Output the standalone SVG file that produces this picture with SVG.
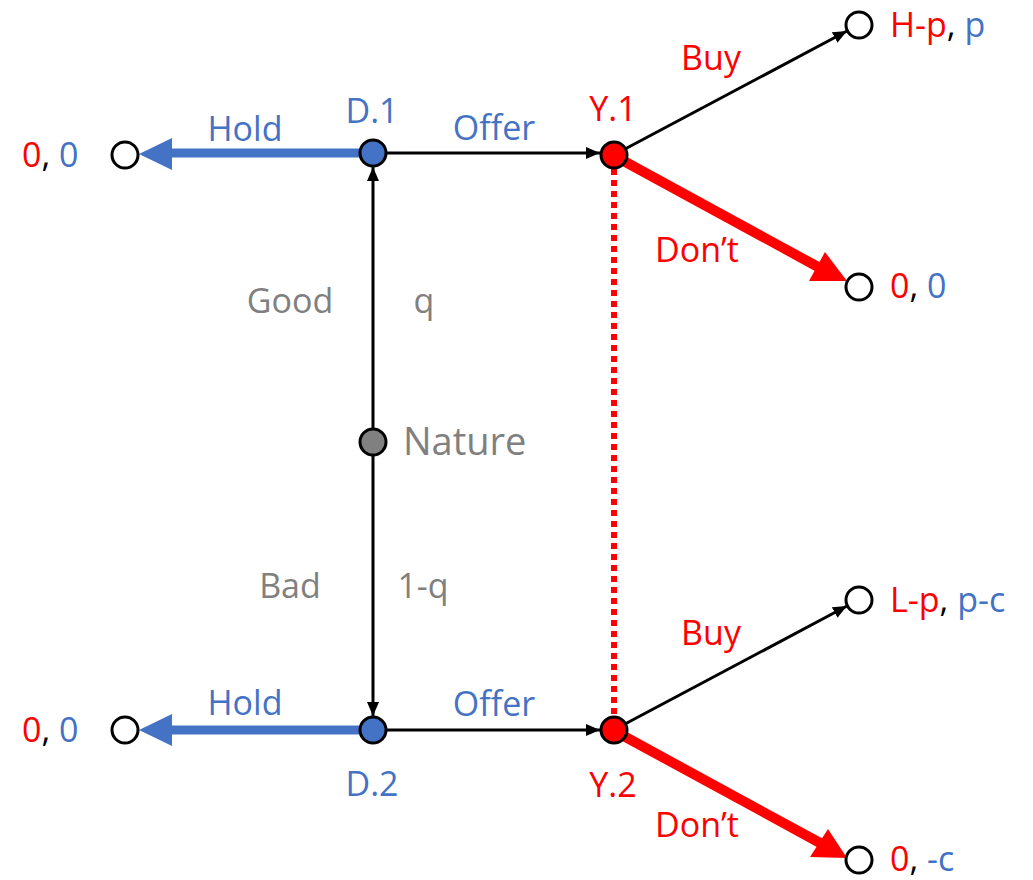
<svg xmlns="http://www.w3.org/2000/svg" width="1033" height="880" viewBox="0 0 1033 880">
<defs>
<style>
text{font-family:"Open Sans","Noto Sans",sans-serif;font-size:34px;font-weight:500;}
.r{fill:#FF0000}.b{fill:#4472C4}.g{fill:#808080}.k{fill:#000}
.m{text-anchor:middle}
.thin{stroke:#000;stroke-width:3;fill:none}
.node{stroke:#000;stroke-width:3}
</style>
<marker id="ah" markerUnits="userSpaceOnUse" markerWidth="16" markerHeight="14" refX="14" refY="6" orient="auto">
<path d="M0,0 L14,6 L0,12 Z" fill="#000"/>
</marker>
</defs>
<rect width="1033" height="880" fill="#fff"/>
<g id="connectors">
<line class="thin" x1="386" y1="153" x2="600" y2="153" marker-end="url(#ah)"/>
<line class="thin" x1="386" y1="730" x2="600" y2="730" marker-end="url(#ah)"/>
<line class="thin" x1="373" y1="428" x2="373" y2="167" marker-end="url(#ah)"/>
<line class="thin" x1="373" y1="455" x2="373" y2="716" marker-end="url(#ah)"/>
<line class="thin" x1="625" y1="149" x2="847" y2="31" marker-end="url(#ah)"/>
<line class="thin" x1="625" y1="724" x2="847" y2="606" marker-end="url(#ah)"/>
<line x1="614" y1="169" x2="614" y2="716" stroke="#FF0000" stroke-width="6" stroke-dasharray="6 5"/>
<line x1="360" y1="153" x2="170" y2="153" stroke="#4472C4" stroke-width="9"/>
<polygon points="139,154 172,138 172,170" fill="#4472C4"/>
<line x1="360" y1="730" x2="170" y2="730" stroke="#4472C4" stroke-width="9"/>
<polygon points="139,730 172,714 172,746" fill="#4472C4"/>
<line x1="620" y1="159" x2="820" y2="268" stroke="#FF0000" stroke-width="10"/>
<polygon points="847,281 809,281 825,252" fill="#FF0000"/>
<line x1="620" y1="734" x2="822" y2="844" stroke="#FF0000" stroke-width="10"/>
<polygon points="847,858 810,857 828,829" fill="#FF0000"/>
</g>
<g id="nature"><circle class="node" cx="373" cy="442" r="13" fill="#808080"/><text class="g" x="403" y="455" style="font-size:38px">Nature</text></g>
<g id="d1"><circle class="node" cx="373" cy="153" r="13" fill="#4472C4"/><text class="b m" x="372" y="123">D.1</text></g>
<g id="d2"><circle class="node" cx="373" cy="730" r="13" fill="#4472C4"/><text class="b m" x="372" y="796">D.2</text></g>
<g id="y1"><circle class="node" cx="614" cy="155" r="13" fill="#FF0000"/><text class="r m" x="613" y="121">Y.1</text></g>
<g id="y2"><circle class="node" cx="614" cy="730" r="13" fill="#FF0000"/><text class="r m" x="613" y="797">Y.2</text></g>
<g id="t-left1"><circle class="node" cx="125" cy="155" r="13" fill="#fff"/><text x="22" y="167"><tspan class="r">0</tspan><tspan class="k">, </tspan><tspan class="b">0</tspan></text></g>
<g id="t-left2"><circle class="node" cx="125" cy="730" r="13" fill="#fff"/><text x="22" y="742"><tspan class="r">0</tspan><tspan class="k">, </tspan><tspan class="b">0</tspan></text></g>
<g id="t-hp"><circle class="node" cx="859" cy="25" r="13" fill="#fff"/><text x="890" y="37"><tspan class="r">H-p</tspan><tspan class="k">, </tspan><tspan class="b">p</tspan></text></g>
<g id="t-00"><circle class="node" cx="859" cy="287" r="13" fill="#fff"/><text x="890" y="298"><tspan class="r">0</tspan><tspan class="k">, </tspan><tspan class="b">0</tspan></text></g>
<g id="t-lp"><circle class="node" cx="859" cy="600" r="13" fill="#fff"/><text x="890" y="612"><tspan class="r">L-p</tspan><tspan class="k">, </tspan><tspan class="b">p-c</tspan></text></g>
<g id="t-0c"><circle class="node" cx="859" cy="860" r="13" fill="#fff"/><text x="890" y="871"><tspan class="r">0</tspan><tspan class="k">, </tspan><tspan class="b">-c</tspan></text></g>
<g id="labels">
<text class="b m" x="245" y="141">Hold</text>
<text class="b m" x="245" y="715">Hold</text>
<text class="b m" x="494" y="140">Offer</text>
<text class="b m" x="494" y="716">Offer</text>
<text class="r m" x="711" y="70">Buy</text>
<text class="r m" x="711" y="645">Buy</text>
<text class="r m" x="697" y="262">Don’t</text>
<text class="r m" x="697" y="837">Don’t</text>
<text class="g m" x="290" y="313">Good</text>
<text class="g m" x="424" y="313">q</text>
<text class="g m" x="290" y="598">Bad</text>
<text class="g m" x="423" y="598">1-q</text>
</g>
</svg>
